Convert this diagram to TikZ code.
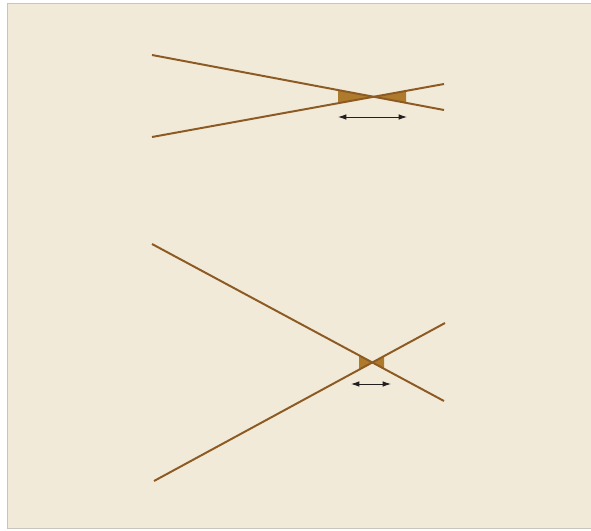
\documentclass[tikz,border=0pt]{standalone}
\usetikzlibrary{arrows.meta}
\definecolor{fondo}{HTML}{F1EAD8}
\definecolor{marco}{HTML}{C9C5BD}
\definecolor{linea}{HTML}{8C5A22}
\definecolor{sombra}{HTML}{AE7B2C}
\definecolor{flecha}{HTML}{231F20}
\tikzset{
    recta/.style={linea, line width=2.8pt},
    cuna/.style={fill=sombra, draw=none},
    cota/.style={flecha, line width=1.3pt, {Latex[length=12pt,width=8pt]}-{Latex[length=12pt,width=8pt]}}
}
\begin{document}
\begin{tikzpicture}[x=0.05cm, y=-0.05cm]
    \useasboundingbox (0,0) rectangle (591,530);
    \clip (0,0) rectangle (591,530);
    % Fondo y marco
    \draw[marco, fill=fondo, line width=1.5pt] (7.5,3.5) rectangle (610,528.5);

    % Figura superior: rectas casi paralelas
    \coordinate (a1) at (152,55);
    \coordinate (a2) at (444,110);
    \coordinate (b1) at (152,137);
    \coordinate (b2) at (444,84);
    \coordinate (x1) at (373.7,96.8);
    \fill[cuna] (338,90.0) -- (x1) -- (338,103.2) -- cycle;
    \fill[cuna] (406,90.9) -- (x1) -- (406,102.8) -- cycle;
    \draw[recta] (a1) -- (a2);
    \draw[recta] (b1) -- (b2);
    \coordinate (p1) at (338,117);
    \coordinate (q1) at (407,117);
    \draw[cota] (p1) -- (q1);

    % Figura inferior: rectas muy inclinadas
    \coordinate (c1) at (152,244);
    \coordinate (c2) at (444,401);
    \coordinate (d1) at (154,481);
    \coordinate (d2) at (445,323);
    \coordinate (x2) at (372.3,362.5);
    \fill[cuna] (359,355.3) -- (x2) -- (359,369.7) -- cycle;
    \fill[cuna] (384,356.1) -- (x2) -- (384,368.7) -- cycle;
    \draw[recta] (c1) -- (c2);
    \draw[recta] (d1) -- (d2);
    \coordinate (p2) at (351,384);
    \coordinate (q2) at (391,384);
    \draw[cota] (p2) -- (q2);
\end{tikzpicture}
\end{document}
